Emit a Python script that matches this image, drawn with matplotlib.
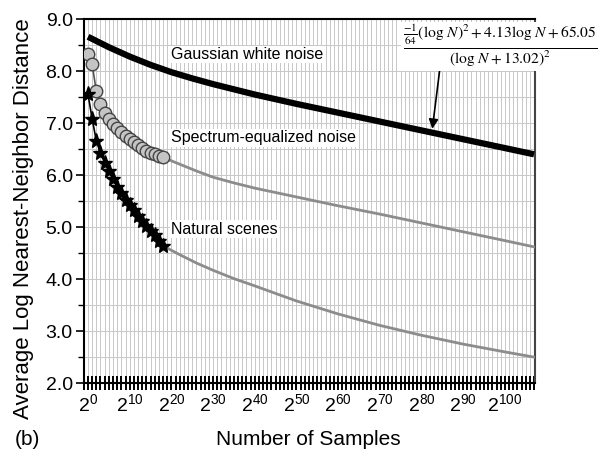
import numpy as np
import matplotlib.pyplot as plt
from matplotlib.ticker import MultipleLocator, FixedLocator

plt.rcParams['font.family'] = ['Liberation Sans', 'DejaVu Sans']
plt.rcParams['mathtext.fontset'] = 'custom'
plt.rcParams['mathtext.rm'] = 'Liberation Sans'
plt.rcParams['mathtext.it'] = 'Liberation Sans:italic'

# x values are log2 of the number of samples
gauss_exp = [0, 5, 10, 15, 20, 25, 30, 40, 50, 60, 70, 80, 90, 100, 107]
gauss_val = [8.66, 8.46, 8.28, 8.12, 7.98, 7.86, 7.75, 7.55, 7.37, 7.20,
             7.03, 6.86, 6.69, 6.52, 6.40]

marker_exp = list(range(19))
spec_pts = [8.32, 8.13, 7.61, 7.36, 7.20, 7.08, 6.99, 6.91, 6.83, 6.76,
            6.69, 6.63, 6.57, 6.52, 6.47, 6.43, 6.40, 6.37, 6.34]
nat_pts = [7.56, 7.08, 6.66, 6.42, 6.24, 6.07, 5.92, 5.78, 5.65, 5.53,
           5.42, 5.32, 5.22, 5.12, 5.02, 4.93, 4.84, 4.74, 4.64]

fit_exp = [18, 22, 26, 30, 35, 40, 50, 60, 70, 80, 90, 100, 107]
spec_fit = [6.34, 6.21, 6.08, 5.96, 5.85, 5.75, 5.58, 5.41, 5.25, 5.08, 4.91, 4.74, 4.62]
nat_fit = [4.64, 4.47, 4.31, 4.17, 4.01, 3.87, 3.58, 3.33, 3.11, 2.92, 2.75, 2.60, 2.50]

xtick_pos = list(range(0, 101, 10))
xtick_labels = ['$2^{%d}$' % k for k in xtick_pos]
ytick_pos = [2, 3, 4, 5, 6, 7, 8, 9]

fig = plt.figure(figsize=(6.03, 4.55), dpi=100)
ax = fig.add_axes([0.139, 0.158, 0.748, 0.800])

ax.set_xlim(-1, 107.2)
ax.set_ylim(2.0, 9.0)

ax.xaxis.set_major_locator(FixedLocator(xtick_pos))
ax.xaxis.set_minor_locator(MultipleLocator(1))
ax.yaxis.set_minor_locator(MultipleLocator(0.5))
ax.grid(True, which='both', color='#c8c8c8', lw=0.7)
ax.set_axisbelow(True)

ax.set_xticklabels(xtick_labels, fontsize=14)
ax.set_yticks(ytick_pos)
ax.set_yticklabels(['%.1f' % v for v in ytick_pos], fontsize=14)

ax.tick_params(axis='x', which='both', direction='inout', length=10, width=1.4, color='black', pad=2)
ax.tick_params(axis='y', which='major', direction='out', length=6, width=1.2, pad=2)
ax.tick_params(axis='y', which='minor', direction='out', length=4, width=1.0)
for side in ['left', 'top', 'bottom']:
    ax.spines[side].set_linewidth(1.5)
    ax.spines[side].set_color('black')
ax.spines['right'].set_linewidth(1.5)
ax.spines['right'].set_color('#444444')

# fitted curves
ax.plot(gauss_exp, gauss_val, color='black', lw=4.5, solid_capstyle='butt', zorder=3)
ax.plot(fit_exp, spec_fit, color='#8c8c8c', lw=2.0, zorder=3)
ax.plot(fit_exp, nat_fit, color='#8c8c8c', lw=2.0, zorder=3)

# measured points
ax.plot(marker_exp, spec_pts, color='#555555', lw=1.2, marker='o', markersize=9,
        markerfacecolor='#c4c4c4', markeredgecolor='#444444', markeredgewidth=1.0, zorder=4)
ax.plot(marker_exp, nat_pts, color='black', lw=1.2, marker='*', markersize=11,
        markerfacecolor='black', markeredgecolor='black', zorder=4)

label_box = dict(facecolor='white', edgecolor='none', pad=1)
ax.text(20, 8.32, 'Gaussian white noise', fontsize=11.5, va='center', ha='left',
        bbox=label_box, zorder=5)
ax.text(20, 6.72, 'Spectrum-equalized noise', fontsize=11.5, va='center', ha='left',
        bbox=label_box, zorder=5)
ax.text(20, 4.96, 'Natural scenes', fontsize=11.5, va='center', ha='left',
        bbox=label_box, zorder=5)

formula = r'$\frac{\frac{-1}{64}(\log\,N)^2+4.13\log\,N+65.05}{(\log\,N+13.02)^2}$'
fig.text(0.829, 0.898, formula, fontsize=16, ha='center', va='center',
         math_fontfamily='stix', zorder=10,
         bbox=dict(facecolor='white', edgecolor='none', pad=1.0))

ax.annotate('', xy=(82.6, 6.89), xytext=(84.4, 8.04),
            arrowprops=dict(arrowstyle='-|>', color='black', lw=1.2, mutation_scale=14,
                            shrinkA=0, shrinkB=0),
            zorder=6)

ax.set_ylabel('Average Log Nearest-Neighbor Distance', fontsize=16)
ax.yaxis.set_label_coords(-0.11, 0.453)
fig.text(0.511, 0.033, 'Number of Samples', fontsize=15, ha='center', va='center')
fig.text(0.045, 0.033, '(b)', fontsize=15, ha='center', va='center')

fig.savefig('out.png', dpi=100)
